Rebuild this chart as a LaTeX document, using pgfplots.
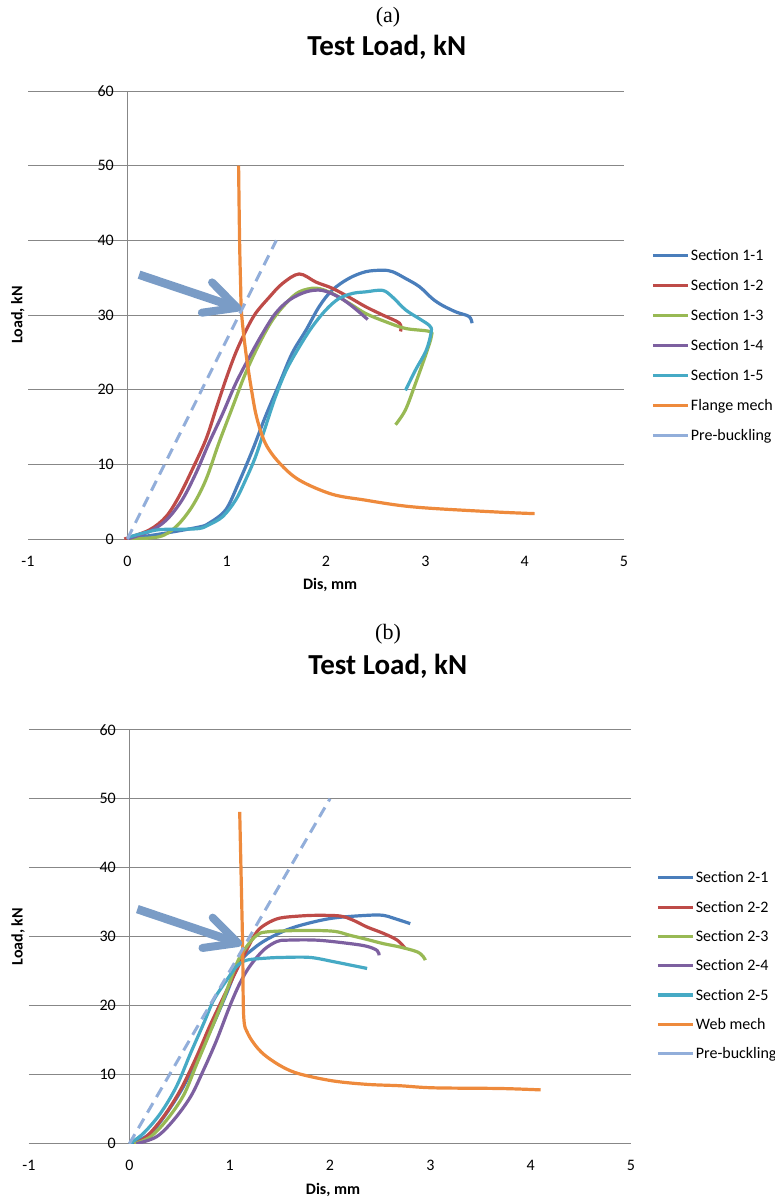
\documentclass[border=0pt]{standalone}
\usepackage{fontspec}
\setmainfont{Carlito}
\newfontfamily\capfont{Liberation Serif}
\usepackage{pgfplots}
\pgfplotsset{compat=1.18}
\usetikzlibrary{arrows.meta}

\definecolor{gridgray}{HTML}{878787}
\definecolor{s1}{HTML}{4A7EBB}
\definecolor{s2}{HTML}{BE4B48}
\definecolor{s3}{HTML}{98B954}
\definecolor{s4}{HTML}{7D60A0}
\definecolor{s5}{HTML}{46AAC5}
\definecolor{mech}{HTML}{EE8A3C}
\definecolor{prebuck}{HTML}{92AEDA}
\definecolor{arrowblue}{HTML}{7A9CC6}

\tikzset{marrow/.style={arrowblue, line width=8.5pt, -{Straight Barb[length=32pt,width=32pt,line width=8pt,round]}}}

\newcommand{\lblfont}{\bfseries\fontsize{16}{19}\selectfont}

\pgfplotsset{
  testload/.style={
    scale only axis,
    anchor=south west,
    xmin=-1, xmax=5, ymin=0, ymax=60,
    axis lines=middle,
    axis line style={-, draw=gridgray, line width=1pt},
    hide obscured x ticks=false, hide obscured y ticks=false,
    xtick={-1,0,...,5}, xticklabels={-1,0,1,2,3,4,5},
    ytick={0,10,...,60},
    /pgf/number format/assume math mode=true,
    ymajorgrids, grid style={gridgray, line width=1pt},
    major tick length=0pt,
    tick label style={font=\fontsize{16}{19}\selectfont},
    xticklabel style={anchor=center, yshift=-22pt},
    yticklabel style={anchor=east, xshift=-10pt},
    title style={font=\bfseries\fontsize{29}{34}\selectfont, anchor=center},
    legend cell align=left,
    legend image code/.code={\draw[#1, solid] (0pt,0pt) -- (35pt,0pt);},
    every axis plot/.append style={line width=3.2pt, smooth, tension=0.55},
  },
  leg/.style={legend style={at={#1}, anchor=north west, draw=none, fill=none,
    inner sep=0pt, column sep=1.5pt,
    nodes={inner sep=0pt, anchor=west, text height=13pt, text depth=3pt},
    font=\fontsize{16}{19}\selectfont}},
}

\begin{document}
\begin{tikzpicture}
\useasboundingbox (0,0) rectangle (775pt,-1199pt);

\node[font=\capfont\fontsize{22}{26}\selectfont] at (388pt,-17pt) {(a)};
\begin{axis}[testload, at={(28pt,-539pt)}, width=596pt, height=448pt,
  title={Test Load, kN}, title style={at={(axis description cs:0.602,1.085)}},
  xlabel={Dis, mm}, ylabel={Load, kN},
  every axis x label/.style={at={(axis description cs:0.507,-0.103)}, anchor=center, font=\lblfont},
  every axis y label/.style={at={(axis description cs:-0.017,0.5)}, anchor=center, rotate=90, font=\lblfont},
  leg={(axis description cs:1.0453,0.652)}, legend style={row sep=14pt},
]
\addplot[s1] coordinates {(0,0) (0.39,0.8) (0.72,1.6) (0.82,2.1) (0.99,3.9) (1.12,7.5) (1.26,11.9) (1.39,16.4) (1.53,20.8) (1.66,24.9) (1.80,28.0) (1.93,31.1) (2.06,33.3) (2.23,34.9) (2.40,35.8) (2.57,36.0) (2.67,35.8) (2.80,34.9) (2.94,33.8) (3.07,32.2) (3.17,31.3) (3.31,30.4) (3.44,29.8) (3.47,28.9)};
\addlegendentry{Section 1-1}
\addplot[s2] coordinates {(-0.03,0) (0.22,1.2) (0.39,3.0) (0.52,5.7) (0.65,9.2) (0.79,13.3) (0.89,17.3) (0.99,21.3) (1.09,24.9) (1.19,27.8) (1.29,30.2) (1.43,32.4) (1.56,34.2) (1.73,35.5) (1.90,34.4) (2.06,33.6) (2.23,32.4) (2.40,31.1) (2.57,30.0) (2.74,28.9) (2.75,27.8)};
\addlegendentry{Section 1-2}
\addplot[s3] coordinates {(0,0) (0.32,0.3) (0.49,1.65) (0.65,4.3) (0.79,7.9) (0.92,12.8) (1.06,17.7) (1.19,22.2) (1.33,26.2) (1.46,29.3) (1.60,31.6) (1.73,33.1) (1.90,33.6) (2.06,32.9) (2.23,31.6) (2.40,30.2) (2.60,29.1) (2.80,28.2) (3.04,27.8) (3.06,27.1) (3.01,24.9) (2.90,20.8) (2.80,17.3) (2.70,15.3)};
\addlegendentry{Section 1-3}
\addplot[s4] coordinates {(0,0) (0.22,1.0) (0.39,2.5) (0.55,5.2) (0.69,8.8) (0.82,12.8) (0.96,16.8) (1.09,20.8) (1.23,24.4) (1.36,27.5) (1.49,30.2) (1.63,32.0) (1.80,33.1) (1.96,33.3) (2.13,32.4) (2.27,31.1) (2.42,29.4)};
\addlegendentry{Section 1-4}
\addplot[s5] coordinates {(0,0.2) (0.29,1.2) (0.49,1.3) (0.72,1.4) (0.82,1.9) (0.96,3.0) (1.09,5.2) (1.19,7.9) (1.29,11.0) (1.39,15.0) (1.49,19.0) (1.60,22.6) (1.73,25.7) (1.86,28.4) (2.00,30.7) (2.13,32.2) (2.27,32.9) (2.40,33.1) (2.57,33.3) (2.67,32.4) (2.80,30.7) (2.94,29.5) (3.04,28.6) (3.06,27.8) (3.01,25.3) (2.90,22.6) (2.80,19.9)};
\addlegendentry{Section 1-5}
\addplot[mech] coordinates {(1.12,50) (1.13,40) (1.14,34.2) (1.15,30.2) (1.19,25.3) (1.24,20.8) (1.30,16.4) (1.39,12.8) (1.53,10.2) (1.73,7.9) (2.06,6.0) (2.40,5.2) (2.74,4.5) (3.07,4.1) (3.74,3.6) (4.10,3.4)};
\addlegendentry{Flange mech}
\addplot[prebuck, line width=3pt, dash pattern=on 11pt off 7pt] coordinates {(0,0) (1.5,40)};
\addlegendentry{Pre-buckling}
\draw[marrow] (axis cs:0.118,35.4) -- (axis cs:1.145,30.8);
\end{axis}

\node[font=\capfont\fontsize{22}{26}\selectfont] at (388pt,-634pt) {(b)};
\begin{axis}[testload, at={(29pt,-1143.7pt)}, width=602pt, height=414pt,
  title={Test Load, kN}, title style={at={(axis description cs:0.596,1.139)}},
  xlabel={Dis, mm}, ylabel={Load, kN},
  every axis x label/.style={at={(axis description cs:0.505,-0.112)}, anchor=center, font=\lblfont},
  every axis y label/.style={at={(axis description cs:-0.018,0.5)}, anchor=center, rotate=90, font=\lblfont},
  leg={(axis description cs:1.0415,0.662)}, legend style={row sep=13.3pt},
]
\addplot[s1] coordinates {(0.02,0) (0.21,1.5) (0.37,4.4) (0.54,8.3) (0.70,13.1) (0.84,17.4) (0.97,21.8) (1.10,26.3) (1.24,28.3) (1.37,29.6) (1.57,31.0) (1.77,31.9) (2.03,32.7) (2.37,33.1) (2.53,33.1) (2.63,32.7) (2.80,31.9)};
\addlegendentry{Section 2-1}
\addplot[s2] coordinates {(0.05,0) (0.17,1.0) (0.34,3.9) (0.51,7.8) (0.67,12.6) (0.80,17.0) (0.94,21.3) (1.07,25.2) (1.17,28.1) (1.27,30.7) (1.37,31.9) (1.50,32.7) (1.70,33.0) (1.87,33.1) (2.10,33.0) (2.23,32.4) (2.37,31.4) (2.53,30.5) (2.67,29.5) (2.75,28.3)};
\addlegendentry{Section 2-2}
\addplot[s3] coordinates {(0.05,0) (0.21,1.0) (0.37,3.4) (0.54,7.0) (0.67,11.5) (0.80,16.0) (0.94,21.0) (1.07,26.1) (1.17,28.6) (1.27,30.2) (1.37,30.7) (1.70,30.9) (2.03,30.8) (2.20,30.2) (2.37,29.6) (2.53,29.0) (2.70,28.5) (2.87,27.8) (2.93,27.1) (2.95,26.6)};
\addlegendentry{Section 2-3}
\addplot[s4] coordinates {(0.07,0) (0.27,1.0) (0.44,3.4) (0.61,6.8) (0.74,10.7) (0.87,15.0) (1.00,19.9) (1.10,23.2) (1.20,25.7) (1.34,28.1) (1.47,29.3) (1.57,29.5) (1.87,29.5) (2.20,29.0) (2.37,28.6) (2.47,28.0) (2.49,27.3)};
\addlegendentry{Section 2-4}
\addplot[s5] coordinates {(0,0) (0.14,1.5) (0.31,4.4) (0.47,8.3) (0.61,13.1) (0.74,17.4) (0.84,20.8) (0.97,23.7) (1.07,25.7) (1.17,26.6) (1.37,26.9) (1.53,27.0) (1.80,27.0) (2.03,26.4) (2.20,25.9) (2.37,25.4)};
\addlegendentry{Section 2-5}
\addplot[mech] coordinates {(1.10,48.1) (1.12,35) (1.13,28) (1.14,18.4) (1.18,16.0) (1.27,14.0) (1.37,12.6) (1.53,11.1) (1.70,10.1) (2.03,9.1) (2.37,8.6) (2.70,8.4) (3.03,8.1) (3.70,8.0) (4.10,7.8)};
\addlegendentry{Web mech}
\addplot[prebuck, line width=3pt, dash pattern=on 11pt off 7pt] coordinates {(0,0) (2,50)};
\addlegendentry{Pre-buckling}
\draw[marrow] (axis cs:0.08,34.0) -- (axis cs:1.12,28.9);
\end{axis}
\end{tikzpicture}
\end{document}
